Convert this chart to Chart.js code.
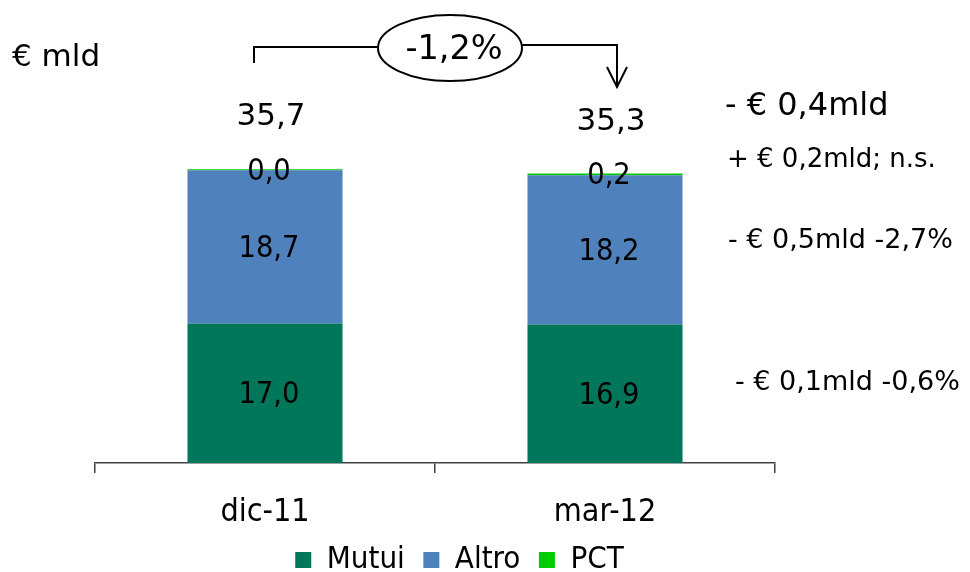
<!DOCTYPE html>
<html>
<head>
<meta charset="utf-8">
<script src="https://cdn.jsdelivr.net/npm/chart.js@4.4.1/dist/chart.umd.min.js"></script>
<style>
    body { margin: 0; background: #fff; }
    #wrap { width: 970px; height: 572px; position: relative; }
</style>
</head>
<body>
<div id="wrap"><canvas id="chartImpieghi"></canvas></div>
<script>
const categories = ['dic-11', 'mar-12'];
const seriesNames = ['Mutui', 'Altro', 'PCT'];
const mutui = [17.0, 16.9];
const altro = [18.7, 18.2];
const pct = [0.04, 0.2];
const seriesColors = ['#00765A', '#4F81BD', '#00CC00'];
const unitLabel = '€ mld';
const changeLabel = '-1,2%';
const deltaLabels = ['- € 0,4mld', '+ € 0,2mld; n.s.', '- € 0,5mld -2,7%', '- € 0,1mld -0,6%'];

const FONT = "'DejaVu Sans', Verdana, sans-serif";
const FONT_COND = "'DejaVu Sans Condensed', 'DejaVu Sans', sans-serif";
Chart.defaults.font.family = FONT_COND;
Chart.defaults.color = '#000';

function fmt(v) {
    return v.toFixed(1).replace('.', ',');
}

// value labels inside segments + totals on top
const labelsPlugin = {
    id: 'labelsPlugin',
    afterDatasetsDraw(chart) {
        const ctx = chart.ctx;
        ctx.save();
        ctx.fillStyle = '#000';
        ctx.textAlign = 'center';
        ctx.textBaseline = 'middle';
        ctx.font = '30.5px ' + FONT_COND;
        chart.data.datasets.forEach((ds, i) => {
            chart.getDatasetMeta(i).data.forEach((bar, j) => {
                const y = (bar.y + bar.base) / 2 + 2;
                ctx.fillText(fmt(ds.data[j]), bar.x + 4, y);
            });
        });
        const last = chart.getDatasetMeta(chart.data.datasets.length - 1).data;
        ctx.font = '31px ' + FONT;
        categories.forEach((c, j) => {
            const total = mutui[j] + altro[j] + pct[j];
            ctx.fillText(fmt(total), last[j].x + 6, last[j].y - 52);
        });
        ctx.restore();
    }
};

// unit, change bracket and right side notes
const notesPlugin = {
    id: 'notesPlugin',
    afterDraw(chart) {
        const ctx = chart.ctx;
        ctx.save();
        ctx.fillStyle = '#000';
        ctx.strokeStyle = '#000';
        ctx.lineWidth = 2;
        ctx.textBaseline = 'middle';
        ctx.textAlign = 'left';
        ctx.font = '31px ' + FONT;
        ctx.fillText(unitLabel, 12, 58);

        ctx.beginPath();
        ctx.moveTo(254, 63);
        ctx.lineTo(254, 47);
        ctx.lineTo(378, 47);
        ctx.moveTo(521, 45);
        ctx.lineTo(617, 45);
        ctx.lineTo(617, 87);
        ctx.moveTo(607, 67);
        ctx.lineTo(617, 87);
        ctx.lineTo(627, 67);
        ctx.stroke();
        ctx.beginPath();
        ctx.ellipse(450, 48, 72, 33, 0, 0, Math.PI * 2);
        ctx.stroke();
        ctx.textAlign = 'center';
        ctx.font = '33.5px ' + FONT;
        ctx.fillText(changeLabel, 454, 50);

        ctx.textAlign = 'left';
        const noteX = [725, 727, 728, 735];
        const noteY = [107, 160, 241, 383];
        const noteSize = [32, 26, 27, 27];
        deltaLabels.forEach((t, i) => {
            ctx.font = noteSize[i] + 'px ' + FONT;
            ctx.fillText(t, noteX[i], noteY[i]);
        });
        ctx.restore();
    }
};

const datasets = [mutui, altro, pct].map((values, i) => ({
    label: seriesNames[i],
    data: values,
    backgroundColor: seriesColors[i],
    borderWidth: 0,
    categoryPercentage: 1,
    barPercentage: 0.456,
    minBarLength: i === 2 ? 1 : 0
}));

new Chart(document.getElementById('chartImpieghi'), {
    type: 'bar',
    data: { labels: categories, datasets: datasets },
    plugins: [labelsPlugin, notesPlugin],
    options: {
        responsive: true,
        maintainAspectRatio: false,
        animation: false,
        layout: { padding: { top: 53, left: 0, right: 51, bottom: -13.5 } },
        plugins: {
            legend: {
                position: 'bottom',
                labels: {
                    boxWidth: 16,
                    boxHeight: 16,
                    padding: 18.5,
                    color: '#000',
                    font: { size: 31 }
                }
            },
            tooltip: { enabled: false }
        },
        scales: {
            x: {
                stacked: true,
                grid: {
                    drawOnChartArea: false,
                    tickLength: 10,
                    color: '#404040',
                    lineWidth: 1.5
                },
                border: { color: '#404040', width: 1.5 },
                ticks: { color: '#000', padding: 20, font: { size: 32 } },
                afterFit: s => { s.height = 63; }
            },
            y: {
                stacked: true,
                min: 0,
                max: 50,
                ticks: { display: false },
                grid: { display: false },
                border: { display: false },
                afterFit: s => { s.width = 95; }
            },
            y2: {
                position: 'right',
                ticks: { display: false },
                grid: { display: false },
                border: { display: false },
                afterFit: s => { s.width = 144; }
            }
        }
    }
});
</script>
</body>
</html>
